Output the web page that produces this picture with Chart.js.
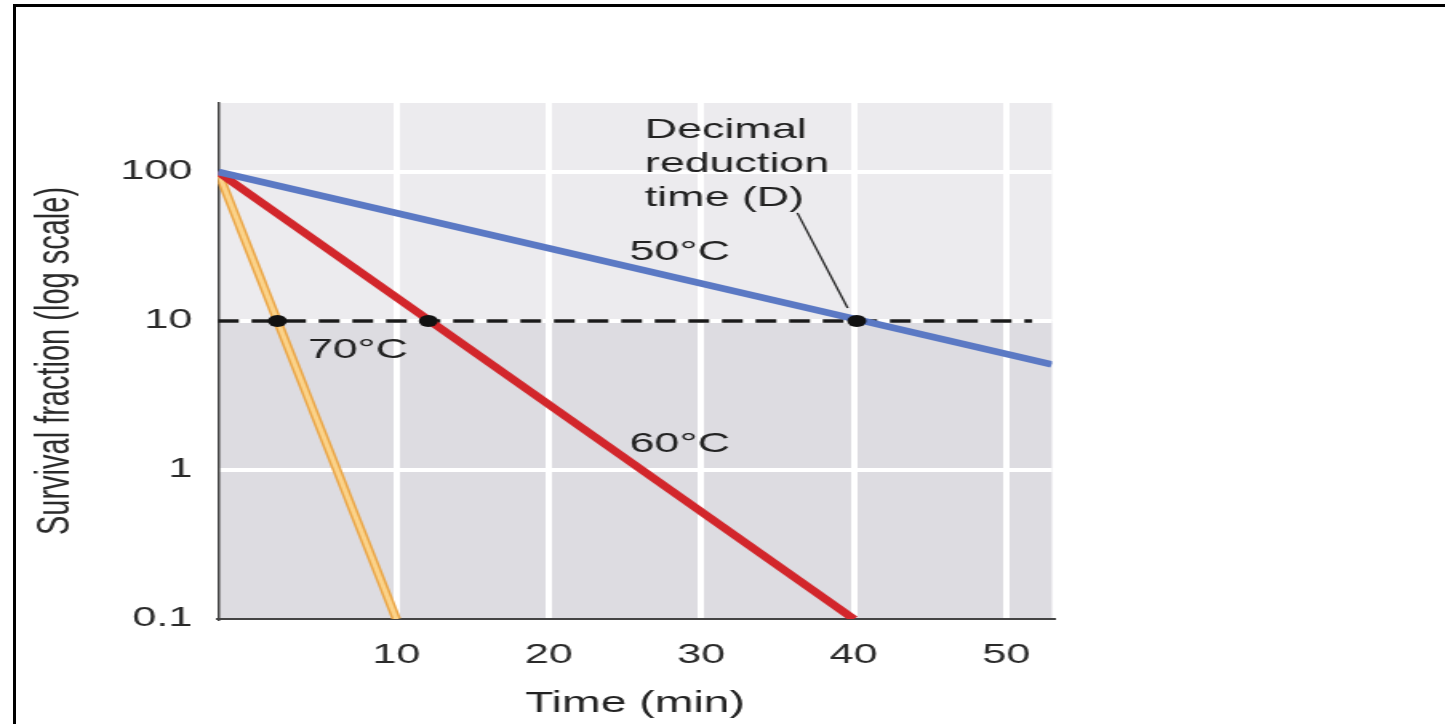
<!DOCTYPE html>
<html>
<head>
<meta charset="utf-8">
<title>Survival fraction vs time</title>
<script src="https://cdn.jsdelivr.net/npm/chart.js@4.4.1/dist/chart.umd.min.js"></script>
<style>
    html, body { margin: 0; padding: 0; background: #fff; overflow: hidden; }
    /* the scanned figure is stretched horizontally, so the chart box is too */
    #wrap {
        position: absolute; left: 0; top: 0;
        width: 903.125px; height: 724px;
        transform: scaleX(1.6); transform-origin: 0 0;
    }
    #frame {
        position: absolute; left: 13px; top: 4px; right: 0; bottom: 0;
        border-top: 3px solid #000; border-left: 3px solid #000;
        pointer-events: none;
    }
</style>
</head>
<body>
<div id="wrap"><canvas id="chart"></canvas></div>
<div id="frame"></div>
<script>
// Data (time in min, survival fraction on log scale)
const time50 = [-1.7, 53.0];
const surv50 = [100, 5.1];
const time60 = [-1.7, 40];
const surv60 = [100, 0.1];
const time70 = [-1.7, 10];
const surv70 = [100, 0.1];

// Decimal reduction level (dashed) and the D points on it
const refTime = [-1.7, 51.7];
const refSurv = [10, 10];
const dTime = [2.2, 12.1, 40.2];
const dSurv = [10, 10, 10];

// Axes
const xMin = -1.7, xMax = 53.0;
const yMin = 0.1, yMax = 290;
const xTicks = [10, 20, 30, 40, 50];
const yTicks = [0.1, 1, 10, 100];
const yTickLabels = ['0.1', '1', '10', '100'];

// Curve labels and annotation (anchored in data units)
const labelText = ['50°C', '70°C', '60°C'];
const labelTime = [25.3, 4.2, 25.3];
const labelSurv = [25.7, 5.65, 1.32];
const noteLines = ['Decimal', 'reduction', 'time (D)'];
const noteTime = 26.3, noteSurv = 169;
const leaderTime = [36.3, 39.6];
const leaderSurv = [53.1, 12.2];

const FONT = "'Liberation Sans', Arial, Helvetica, sans-serif";

function points(xs, ys) {
    return xs.map((x, i) => ({ x: x, y: ys[i] }));
}

// Grey plot background, lighter above the 10 level
const backgroundPlugin = {
    id: 'plotBackground',
    beforeDraw(chart) {
        const { ctx, chartArea: a, scales } = chart;
        const y10 = scales.y.getPixelForValue(10);
        ctx.save();
        ctx.fillStyle = '#ecebee';
        ctx.fillRect(a.left, a.top, a.right - a.left, y10 - a.top);
        ctx.fillStyle = '#dddce1';
        ctx.fillRect(a.left, y10, a.right - a.left, a.bottom - y10);
        ctx.restore();
    }
};

// Curve labels, the D note and its leader line
const labelsPlugin = {
    id: 'curveLabels',
    afterDraw(chart) {
        const { ctx, scales: { x, y } } = chart;
        ctx.save();
        ctx.fillStyle = '#222';
        ctx.font = '28px ' + FONT;
        ctx.textAlign = 'left';
        ctx.textBaseline = 'alphabetic';
        labelText.forEach((t, i) => {
            ctx.fillText(t, x.getPixelForValue(labelTime[i]), y.getPixelForValue(labelSurv[i]));
        });
        const nx = x.getPixelForValue(noteTime);
        const ny = y.getPixelForValue(noteSurv);
        noteLines.forEach((t, i) => ctx.fillText(t, nx, ny + i * 34));

        ctx.strokeStyle = '#222';
        ctx.lineWidth = 1.3;
        ctx.beginPath();
        ctx.moveTo(x.getPixelForValue(leaderTime[0]), y.getPixelForValue(leaderSurv[0]));
        ctx.lineTo(x.getPixelForValue(leaderTime[1]), y.getPixelForValue(leaderSurv[1]));
        ctx.stroke();
        ctx.restore();
    }
};

const ctx = document.getElementById('chart').getContext('2d');
const chart = new Chart(ctx, {
    type: 'line',
    data: {
        datasets: [{
            label: 'D',
            data: points(dTime, dSurv),
            showLine: false,
            pointRadius: 6,
            pointBackgroundColor: '#111',
            pointBorderWidth: 0
        }, {
            label: '50°C',
            data: points(time50, surv50),
            borderColor: '#5b79c4',
            borderWidth: 6.5,
            pointRadius: 0
        }, {
            label: '60°C',
            data: points(time60, surv60),
            borderColor: '#d2262b',
            borderWidth: 6.5,
            pointRadius: 0
        }, {
            label: '70°C core',
            data: points(time70, surv70),
            borderColor: '#fbd38a',
            borderWidth: 3,
            pointRadius: 0
        }, {
            label: '70°C',
            data: points(time70, surv70),
            borderColor: '#eba646',
            borderWidth: 6,
            pointRadius: 0
        }, {
            label: 'D level',
            data: points(refTime, refSurv),
            borderColor: '#1a1a1a',
            borderWidth: 3.5,
            borderDash: [13, 8],
            pointRadius: 0
        }]
    },
    options: {
        responsive: true,
        maintainAspectRatio: false,
        animation: false,
        layout: { padding: { left: 0, right: 245.6, top: 103, bottom: 0 } },
        plugins: {
            legend: { display: false },
            tooltip: { enabled: false }
        },
        scales: {
            x: {
                type: 'linear',
                min: xMin,
                max: xMax,
                afterBuildTicks: axis => { axis.ticks = xTicks.map(v => ({ value: v })); },
                afterFit: axis => { axis.height = 105; },
                grid: { color: '#ffffff', lineWidth: 4, drawTicks: false },
                border: { display: true, color: '#444', width: 2 },
                ticks: {
                    padding: 20,
                    color: '#2a2a2a',
                    font: { family: FONT, size: 27 }
                },
                title: {
                    display: true,
                    text: 'Time (min)',
                    color: '#222',
                    font: { family: FONT, size: 29 },
                    padding: { top: 0, bottom: 3 }
                }
            },
            y: {
                type: 'logarithmic',
                min: yMin,
                max: yMax,
                afterBuildTicks: axis => { axis.ticks = yTicks.map(v => ({ value: v })); },
                afterFit: axis => { axis.width = 136.25; },
                grid: {
                    color: c => (c.tick && c.tick.value === 0.1) ? 'rgba(0,0,0,0)' : '#ffffff',
                    lineWidth: 4,
                    drawTicks: false
                },
                border: { display: true, color: '#444', width: 1.5 },
                ticks: {
                    padding: 16,
                    color: '#2a2a2a',
                    font: { family: FONT, size: 27 },
                    callback: v => yTickLabels[yTicks.indexOf(v)]
                },
                title: {
                    display: true,
                    text: 'Survival fraction (log scale)',
                    color: '#2a2a2a',
                    font: { family: FONT, size: 29 },
                    padding: { top: 18, bottom: 0 }
                }
            }
        }
    },
    plugins: [backgroundPlugin, labelsPlugin]
});
</script>
</body>
</html>
